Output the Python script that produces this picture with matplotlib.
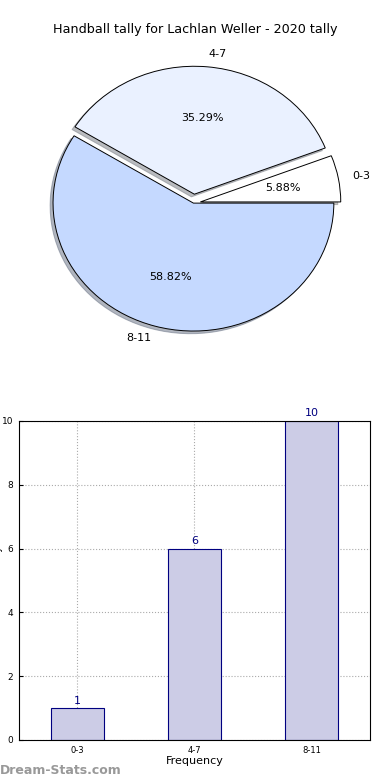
import matplotlib
matplotlib.use("Agg")
import matplotlib.pyplot as plt
import numpy as np

categories = ["0-3", "4-7", "8-11"]
counts = [1, 6, 10]
pie_colors = ["#FFFFFF", "#EAF1FF", "#C5D9FF"]
explode = [0.05, 0.07, 0.0]

fig = plt.figure(figsize=(3.9, 7.8), dpi=100)

# pie chart (top)
pie_ax = fig.add_axes([0.046, 0.5346, 0.9, 0.41])
wedges, texts, autotexts = pie_ax.pie(
    counts,
    labels=categories,
    colors=pie_colors,
    explode=explode,
    autopct="%1.2f%%",
    startangle=0,
    shadow={"ox": -0.015, "oy": -0.015, "shade": 0.5},
    labeldistance=1.1,
    pctdistance=0.6,
    wedgeprops={"edgecolor": "black", "linewidth": 0.7},
    textprops={"fontsize": 8},
)
pie_ax.set_aspect("auto")
pie_ax.set_xlim(-1.25, 1.25)
pie_ax.set_ylim(-1.25, 1.25)
fig.text(0.5, 0.962, "Handball tally for Lachlan Weller - 2020 tally", ha="center", va="center", fontsize=9.2)

# bar chart (bottom)
bar_ax = fig.add_axes([0.0487, 0.0513, 0.9, 0.409])
x_values = np.arange(len(categories))
bar_ax.bar(x_values, counts, width=0.45, color="#CCCCE6", edgecolor="#000080", linewidth=0.8, zorder=2)
for xv, val in zip(x_values, counts):
    bar_ax.text(xv, val + 0.08, str(val), ha="center", va="bottom", color="#000080", fontsize=8)
bar_ax.set_xlim(-0.5, 2.5)
bar_ax.set_ylim(0, 10)
bar_ax.set_xticks(x_values)
bar_ax.set_xticklabels(categories, fontsize=6)
bar_ax.set_yticks([0, 2, 4, 6, 8, 10])
bar_ax.tick_params(axis="y", labelsize=6.5, direction="in", length=3, pad=4)
bar_ax.tick_params(axis="x", direction="in", length=3, pad=4)
bar_ax.grid(True, linestyle=":", color="#AAAAAA", linewidth=0.8, zorder=0)
bar_ax.set_axisbelow(True)
bar_ax.set_xlabel("Frequency", fontsize=8, labelpad=1)
fig.text(-0.006, 0.256, "Handball Tally", rotation=90, ha="center", va="center", fontsize=7)

fig.text(0.0, 0.012, "Dream-Stats.com", ha="left", va="center", fontsize=9, color="#999999", fontweight="bold")

fig.savefig("out.png", dpi=100)
plt.close(fig)
